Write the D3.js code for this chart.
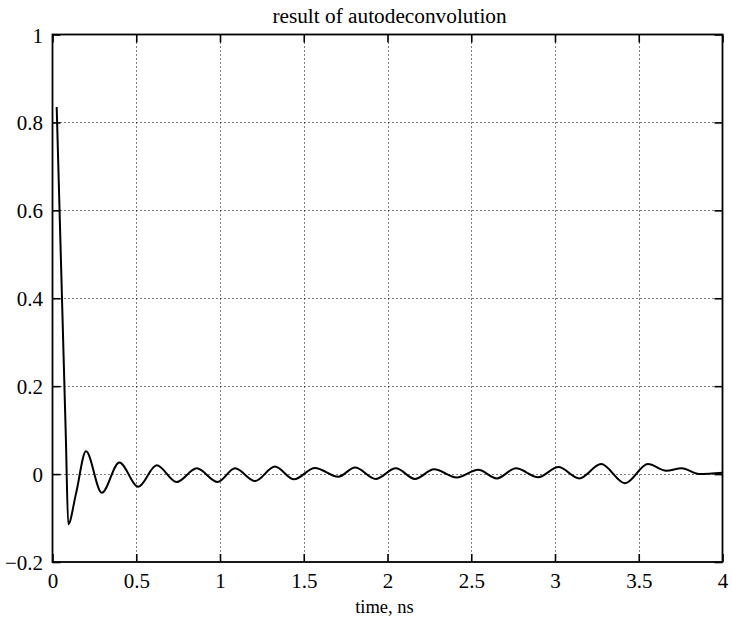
<!DOCTYPE html>
<html>
<head>
<meta charset="utf-8">
<script src="https://cdn.jsdelivr.net/npm/d3@7"></script>
<style>
  html, body { margin: 0; padding: 0; background: #fff; }
  svg { display: block; }
  text { font-family: "Liberation Serif", "Times New Roman", serif; fill: #000; }
</style>
</head>
<body>
<svg id="chart" width="732" height="622"></svg>
<script>
// Deconvolved response: turning points (time in ns, amplitude)
const timeNs = [0.025, 0.04, 0.06, 0.08, 0.094, 0.14, 0.2, 0.294, 0.399, 0.512, 0.622, 0.741, 0.861,
  0.986, 1.09, 1.209, 1.328, 1.442, 1.567, 1.706, 1.806, 1.93, 2.05, 2.164, 2.278, 2.413, 2.542,
  2.652, 2.767, 2.9, 3.02, 3.145, 3.275, 3.418, 3.555, 3.664, 3.757, 3.86, 4.0];
const amplitude = [0.835, 0.629, 0.354, 0.079, -0.114, -0.045, 0.052, -0.0425, 0.0266, -0.029, 0.020, -0.018, 0.013,
  -0.018, 0.013, -0.016, 0.017, -0.012, 0.014, -0.006, 0.015, -0.011, 0.013, -0.011, 0.011, -0.0075, 0.0098,
  -0.0098, 0.013, -0.007, 0.016, -0.0098, 0.0227, -0.021, 0.0227, 0.0075, 0.013, 0.0, 0.003];

const xTicks = [0, 0.5, 1, 1.5, 2, 2.5, 3, 3.5, 4];
const yTicks = [-0.2, 0, 0.2, 0.4, 0.6, 0.8, 1];
const xTickLabels = ["0", "0.5", "1", "1.5", "2", "2.5", "3", "3.5", "4"];
const yTickLabels = ["\u22120.2", "0", "0.2", "0.4", "0.6", "0.8", "1"];

const titleText = "result of autodeconvolution";
const xLabelText = "time, ns";

const svg = d3.select("#chart");
const plotL = 52.5, plotR = 722.5, plotT = 34.5, plotB = 562;

const x = d3.scaleLinear().domain([0, 4]).range([plotL, plotR]);
const y = d3.scaleLinear().domain([-0.2, 1]).range([plotB, plotT]);

svg.append("rect").attr("width", 732).attr("height", 622).attr("fill", "#fff");

// dotted grid
const grid = svg.append("g").attr("stroke", "#000").attr("stroke-width", 1)
  .attr("stroke-dasharray", "1,3");
grid.selectAll("line.gx").data(xTicks.slice(1, -1)).join("line")
  .attr("x1", d => Math.round(x(d)) + 0.5).attr("x2", d => Math.round(x(d)) + 0.5)
  .attr("y1", plotT).attr("y2", plotB);
grid.selectAll("line.gy").data(yTicks.slice(1, -1)).join("line")
  .attr("y1", d => Math.round(y(d)) + 0.5).attr("y2", d => Math.round(y(d)) + 0.5)
  .attr("x1", plotL).attr("x2", plotR);

// inward ticks on all four sides
const tickLen = 8;
const axB = d3.axisBottom(x).tickValues(xTicks).tickSize(tickLen).tickFormat((d, i) => xTickLabels[i]);
const axT = d3.axisTop(x).tickValues(xTicks).tickSize(tickLen).tickFormat("");
const axL = d3.axisLeft(y).tickValues(yTicks).tickSize(tickLen).tickFormat((d, i) => yTickLabels[i]);
const axR = d3.axisRight(y).tickValues(yTicks).tickSize(tickLen).tickFormat("");

function style(g) {
  g.select(".domain").remove();
  g.selectAll(".tick line").attr("stroke", "#000").attr("stroke-width", 1.6);
  g.selectAll(".tick text").attr("font-size", 21).attr("font-family", "Liberation Serif, serif").attr("fill", "#000");
}

svg.append("g").attr("transform", `translate(0,${plotB})`).call(axB).call(style)
  .call(g => g.selectAll(".tick line").attr("y2", -tickLen))
  .call(g => g.selectAll(".tick text").attr("y", 26).attr("dy", 0));
svg.append("g").attr("transform", `translate(0,${plotT})`).call(axT).call(style)
  .call(g => g.selectAll(".tick line").attr("y2", tickLen));
svg.append("g").attr("transform", `translate(${plotL},0)`).call(axL).call(style)
  .call(g => g.selectAll(".tick line").attr("x2", tickLen))
  .call(g => g.selectAll(".tick text").attr("x", -9.5).attr("dy", "0.36em"));
svg.append("g").attr("transform", `translate(${plotR},0)`).call(axR).call(style)
  .call(g => g.selectAll(".tick line").attr("x2", -tickLen));

// frame
svg.append("rect").attr("x", plotL).attr("y", plotT)
  .attr("width", plotR - plotL).attr("height", plotB - plotT)
  .attr("fill", "none").attr("stroke", "#000").attr("stroke-width", 1.8);

// response curve
const pts = timeNs.map((t, i) => [t, amplitude[i]]);
const line = d3.line().x(d => x(d[0])).y(d => y(d[1])).curve(d3.curveMonotoneX);
svg.append("path").datum(pts).attr("d", line)
  .attr("fill", "none").attr("stroke", "#000").attr("stroke-width", 2)
  .attr("stroke-linejoin", "round");

// title and axis label
svg.append("text").attr("x", (plotL + plotR) / 2 + 2).attr("y", 22.5)
  .attr("text-anchor", "middle").attr("font-size", 21.3).text(titleText);
svg.append("text").attr("x", (plotL + plotR) / 2 - 3).attr("y", 613)
  .attr("text-anchor", "middle").attr("font-size", 18.5).text(xLabelText);
</script>
</body>
</html>
